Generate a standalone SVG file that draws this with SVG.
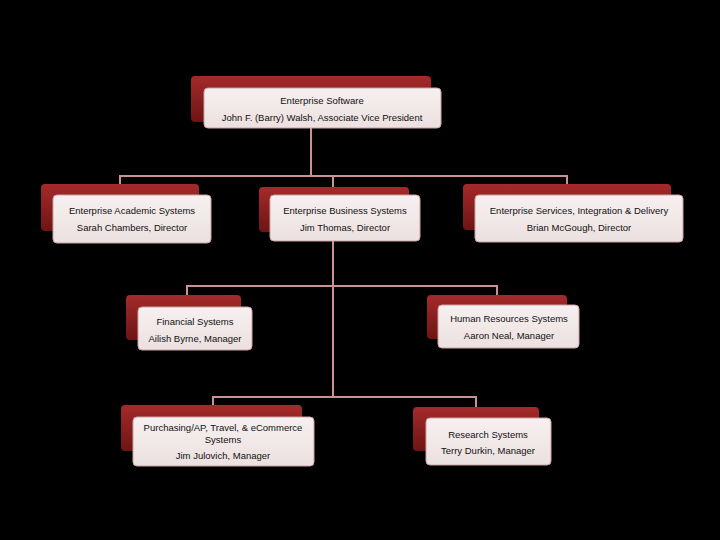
<svg xmlns="http://www.w3.org/2000/svg" width="720" height="540" viewBox="0 0 720 540">
<defs>
<linearGradient id="rg" x1="0" y1="0" x2="0" y2="1"><stop offset="0" stop-color="#a52a2a"/><stop offset="1" stop-color="#6e1414"/></linearGradient>
<linearGradient id="wg" x1="0" y1="0" x2="0" y2="1"><stop offset="0" stop-color="#f7f0f0"/><stop offset="1" stop-color="#ece0e0"/></linearGradient>
<style>
.b{fill:url(#rg);rx:4}
.f{fill:url(#wg);stroke:#c9a3a3;stroke-width:1}
.c{stroke:#c99393;stroke-width:2;fill:none}
text{font-family:"Liberation Sans",sans-serif;font-size:9.5px;fill:#111;text-anchor:middle}
</style>
</defs>
<rect width="720" height="540" fill="#000"/>
<g id="connectors">
<path class="c" d="M311 128V176M120 184V176H567V184M333 176V195"/>
<path class="c" d="M333 241V397M187 296V286H497V296M213 405V397H476V407"/>
</g>
<g id="n0"><rect class="b" x="191" y="76" width="240" height="46" rx="4"/><rect class="f" x="204" y="88" width="237" height="40" rx="4"/><text x="322" y="104">Enterprise Software</text><text x="322" y="121">John F. (Barry) Walsh, Associate Vice President</text></g>
<g id="n1"><rect class="b" x="41" y="184" width="158" height="47" rx="4"/><rect class="f" x="53" y="195" width="158" height="48" rx="4"/><text x="132" y="214">Enterprise Academic Systems</text><text x="132" y="231">Sarah Chambers, Director</text></g>
<g id="n2"><rect class="b" x="259" y="187" width="150" height="45" rx="4"/><rect class="f" x="270" y="195" width="150" height="46" rx="4"/><text x="345" y="214">Enterprise Business Systems</text><text x="345" y="231">Jim Thomas, Director</text></g>
<g id="n3"><rect class="b" x="463" y="184" width="208" height="46" rx="4"/><rect class="f" x="475" y="195" width="208" height="47" rx="4"/><text x="579" y="214">Enterprise Services, Integration &amp; Delivery</text><text x="579" y="231">Brian McGough, Director</text></g>
<g id="n4"><rect class="b" x="126" y="295" width="115" height="45" rx="4"/><rect class="f" x="138" y="307" width="114" height="43" rx="4"/><text x="195" y="325">Financial Systems</text><text x="195" y="342">Ailish Byrne, Manager</text></g>
<g id="n5"><rect class="b" x="427" y="295" width="140" height="44" rx="4"/><rect class="f" x="438" y="305" width="141" height="43" rx="4"/><text x="509" y="322">Human Resources Systems</text><text x="509" y="339">Aaron Neal, Manager</text></g>
<g id="n6"><rect class="b" x="121" y="405" width="181" height="46" rx="4"/><rect class="f" x="133" y="417" width="181" height="49" rx="4"/><text x="223" y="431">Purchasing/AP, Travel, &amp; eCommerce</text><text x="223" y="443">Systems</text><text x="223" y="459">Jim Julovich, Manager</text></g>
<g id="n7"><rect class="b" x="413" y="407" width="126" height="44" rx="4"/><rect class="f" x="426" y="418" width="125" height="47" rx="4"/><text x="488" y="438">Research Systems</text><text x="488" y="454">Terry Durkin, Manager</text></g>
</svg>
